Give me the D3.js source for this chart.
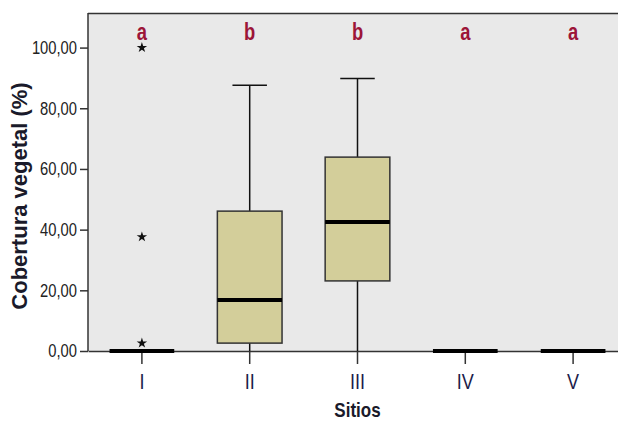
<!DOCTYPE html>
<html>
<head>
<meta charset="utf-8">
<script src="https://cdn.jsdelivr.net/npm/d3@7"></script>
<style>
  body { margin: 0; background: #fff; }
  svg { display: block; }
</style>
</head>
<body>
<svg id="chart" width="618" height="422"></svg>
<script>
const sites = ["I", "II", "III", "IV", "V"];
const q1 = [0, 2.6, 23.1, 0, 0];
const median = [0, 16.8, 42.5, 0, 0];
const q3 = [0, 46.1, 63.9, 0, 0];
const whiskerLow = [0, 0, 0, 0, 0];
const whiskerHigh = [0, 87.6, 89.8, 0, 0];
const outlierSite = ["I", "I", "I"];
const outlierValue = [100, 37.6, 2.6];
const letters = ["a", "b", "b", "a", "a"];
const yTicks = [0, 20, 40, 60, 80, 100];

const svg = d3.select("#chart");
const mLeft = 88, mRight = 627, mTop = 13, mBottom = 351;
const narrow = 0.82; // squeeze Liberation Sans to look like Arial Narrow
const font = "'Liberation Sans', Arial, sans-serif";

const x = d3.scaleBand().domain(sites).range([mLeft, mRight]);
const y = d3.scaleLinear().domain([0, 111.4]).range([mBottom, mTop]);
const boxW = x.bandwidth() * 0.6;
const capW = x.bandwidth() * 0.32;
const cx = s => x(s) + x.bandwidth() / 2;
const fmt = v => d3.format(".2f")(v).replace(".", ",");

// plot background
svg.append("rect")
    .attr("x", mLeft).attr("y", mTop)
    .attr("width", mRight - mLeft).attr("height", mBottom - mTop)
    .attr("fill", "#e9e9e9");
svg.append("line")
    .attr("x1", mLeft).attr("x2", mRight).attr("y1", mTop + 0.5).attr("y2", mTop + 0.5)
    .attr("stroke", "#333").attr("stroke-width", 1.5);

const boxes = sites.map((s, i) => ({s, q1: q1[i], med: median[i], q3: q3[i], lo: whiskerLow[i], hi: whiskerHigh[i]}));

const g = svg.append("g");
// whiskers
boxes.filter(d => d.hi > d.q3).forEach(d => {
    g.append("line").attr("x1", cx(d.s)).attr("x2", cx(d.s))
        .attr("y1", y(d.q3)).attr("y2", y(d.hi)).attr("stroke", "#111").attr("stroke-width", 1.5);
    g.append("line").attr("x1", cx(d.s) - capW / 2).attr("x2", cx(d.s) + capW / 2)
        .attr("y1", y(d.hi)).attr("y2", y(d.hi)).attr("stroke", "#111").attr("stroke-width", 1.5);
});
boxes.filter(d => d.q1 > d.lo).forEach(d => {
    g.append("line").attr("x1", cx(d.s)).attr("x2", cx(d.s))
        .attr("y1", y(d.q1)).attr("y2", y(d.lo)).attr("stroke", "#111").attr("stroke-width", 1.5);
});
// boxes
g.selectAll("rect.box").data(boxes.filter(d => d.q3 > d.q1)).join("rect")
    .attr("class", "box")
    .attr("x", d => cx(d.s) - boxW / 2).attr("width", boxW)
    .attr("y", d => y(d.q3)).attr("height", d => y(d.q1) - y(d.q3))
    .attr("fill", "#d3ce9a").attr("stroke", "#333").attr("stroke-width", 1.5);

// axes
const yAxis = svg.append("g").attr("transform", `translate(${mLeft},0)`)
    .call(d3.axisLeft(y).tickValues(yTicks).tickFormat(fmt).tickSize(8).tickSizeOuter(0));
yAxis.select(".domain").attr("stroke", "#333").attr("stroke-width", 1.5)
    .attr("d", `M0,${mTop}V${mBottom}`);
yAxis.selectAll(".tick line").attr("stroke", "#333").attr("stroke-width", 1.5);
yAxis.selectAll(".tick text")
    .attr("font-family", font).attr("font-size", 18).attr("fill", "#222")
    .attr("x", -11 / narrow).attr("transform", `scale(${narrow},1)`);

const xAxis = svg.append("g").attr("transform", `translate(0,${mBottom})`)
    .call(d3.axisBottom(x).tickSize(13).tickSizeOuter(0));
xAxis.select(".domain").attr("stroke", "#333").attr("stroke-width", 1.5);
xAxis.selectAll(".tick line").attr("stroke", "#333").attr("stroke-width", 1.5);
xAxis.selectAll(".tick text")
    .attr("font-family", font).attr("font-size", 22).attr("fill", "#1c1c4a")
    .attr("y", 22).attr("transform", `scale(${narrow},1)`);

// medians
g.raise();
g.selectAll("line.med").data(boxes).join("line")
    .attr("class", "med")
    .attr("x1", d => cx(d.s) - boxW / 2).attr("x2", d => cx(d.s) + boxW / 2)
    .attr("y1", d => y(d.med)).attr("y2", d => y(d.med))
    .attr("stroke", "#000").attr("stroke-width", 4);

// outliers
const star = d3.symbol().type(d3.symbolStar).size(34);
svg.selectAll("path.out").data(outlierValue).join("path")
    .attr("class", "out")
    .attr("d", star)
    .attr("transform", (v, i) => `translate(${cx(outlierSite[i])},${y(v)})`)
    .attr("fill", "#111");

// group letters
svg.selectAll("text.letter").data(letters).join("text")
    .attr("class", "letter")
    .attr("transform", (d, i) => `translate(${cx(sites[i])},40) scale(0.8,1)`)
    .attr("text-anchor", "middle")
    .attr("font-family", font).attr("font-weight", "bold").attr("font-size", 23)
    .attr("fill", "#9c1538")
    .text(d => d);

// titles
svg.append("text")
    .attr("transform", `translate(${(mLeft + mRight) / 2},417) scale(0.85,1)`)
    .attr("text-anchor", "middle")
    .attr("font-family", font).attr("font-weight", "bold").attr("font-size", 20)
    .attr("fill", "#1a1a2a")
    .text("Sitios");
svg.append("text")
    .attr("transform", `translate(27,196) rotate(-90)`)
    .attr("text-anchor", "middle")
    .attr("font-family", font).attr("font-weight", "bold").attr("font-size", 22)
    .attr("fill", "#1a1a2a")
    .text("Cobertura vegetal (%)");
</script>
</body>
</html>
